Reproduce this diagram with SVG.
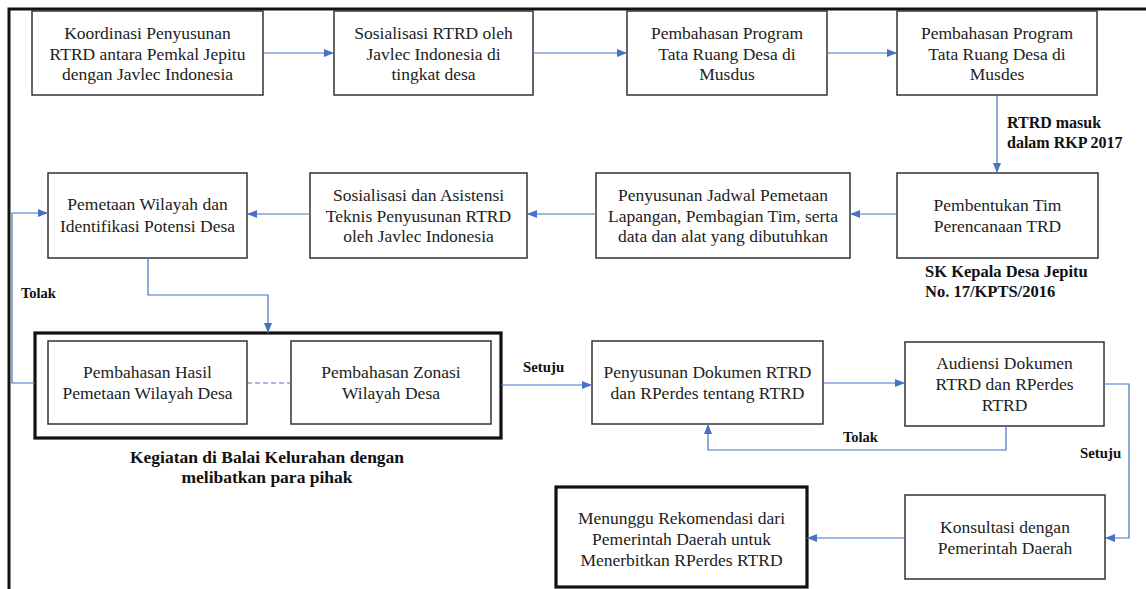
<svg xmlns="http://www.w3.org/2000/svg" width="1146" height="589" viewBox="0 0 1146 589">
<defs>
<style>
.box{fill:#fff;stroke:#333;stroke-width:1.5}
.thick{fill:#fff;stroke:#111;stroke-width:3.2}
text{font-family:'Liberation Serif',Tinos,'Times New Roman','DejaVu Serif',serif}
.t{font-size:17.5px;fill:#222;text-anchor:middle}
.lb{font-weight:bold;fill:#111}
.c{fill:none;stroke:#4472C4;stroke-width:1.2}
.frame{fill:none;stroke:#111;stroke-width:3}
</style>
<marker id="ah" markerUnits="userSpaceOnUse" markerWidth="10" markerHeight="10" viewBox="0 0 10 10" refX="10" refY="5" orient="auto">
<path d="M0,1 L10,5 L0,9 Z" fill="#4472C4"/>
</marker>
</defs>
<rect width="1146" height="589" fill="#fff"/>
<path class="frame" d="M9,589 V9 H1146"/>

<g id="n1"><rect class="box" x="32" y="11" width="231" height="84"/>
<text class="t" x="147.5" y="39">Koordinasi Penyusunan</text><text class="t" x="147.5" y="59.5">RTRD antara Pemkal Jepitu</text><text class="t" x="147.5" y="80">dengan Javlec Indonesia</text></g>
<g id="n2"><rect class="box" x="334" y="11" width="199" height="84"/>
<text class="t" x="433.5" y="39">Sosialisasi RTRD oleh</text><text class="t" x="433.5" y="59.5">Javlec Indonesia di</text><text class="t" x="433.5" y="80">tingkat desa</text></g>
<g id="n3"><rect class="box" x="627" y="11" width="200" height="84"/>
<text class="t" x="727" y="39">Pembahasan Program</text><text class="t" x="727" y="59.5">Tata Ruang Desa di</text><text class="t" x="727" y="80">Musdus</text></g>
<g id="n4"><rect class="box" x="897" y="11" width="200" height="84"/>
<text class="t" x="997" y="39">Pembahasan Program</text><text class="t" x="997" y="59.5">Tata Ruang Desa di</text><text class="t" x="997" y="80">Musdes</text></g>

<g id="n5"><rect class="box" x="897" y="173" width="201" height="85"/>
<text class="t" x="997.5" y="211">Pembentukan Tim</text><text class="t" x="997.5" y="232">Perencanaan TRD</text></g>
<g id="n6"><rect class="box" x="596" y="173" width="254" height="85"/>
<text class="t" x="723" y="201">Penyusunan Jadwal Pemetaan</text><text class="t" x="723" y="221.5">Lapangan, Pembagian Tim, serta</text><text class="t" x="723" y="242">data dan alat yang dibutuhkan</text></g>
<g id="n7"><rect class="box" x="310" y="173" width="217" height="85"/>
<text class="t" x="418.5" y="201">Sosialisasi dan Asistensi</text><text class="t" x="418.5" y="221.5">Teknis Penyusunan RTRD</text><text class="t" x="418.5" y="242">oleh Javlec Indonesia</text></g>
<g id="n8"><rect class="box" x="48" y="173" width="199" height="85"/>
<text class="t" x="147.5" y="210">Pemetaan Wilayah dan</text><text class="t" x="147.5" y="232">Identifikasi Potensi Desa</text></g>

<g id="group"><rect class="thick" x="35" y="333" width="466" height="105"/>
<text class="lb" x="267" y="463" font-size="17.5" text-anchor="middle">Kegiatan di Balai Kelurahan dengan</text>
<text class="lb" x="267" y="483" font-size="17.5" text-anchor="middle">melibatkan para pihak</text></g>
<g id="n9"><rect class="box" x="48" y="341" width="199" height="83"/>
<text class="t" x="147.5" y="378">Pembahasan Hasil</text><text class="t" x="147.5" y="399">Pemetaan Wilayah Desa</text></g>
<g id="n10"><rect class="box" x="291" y="341" width="200" height="83"/>
<text class="t" x="391" y="378">Pembahasan Zonasi</text><text class="t" x="391" y="399">Wilayah Desa</text></g>

<g id="n11"><rect class="box" x="592" y="341" width="231" height="83"/>
<text class="t" x="707.5" y="378">Penyusunan Dokumen RTRD</text><text class="t" x="707.5" y="399">dan RPerdes tentang RTRD</text></g>
<g id="n12"><rect class="box" x="905" y="342" width="199" height="84"/>
<text class="t" x="1004.5" y="369">Audiensi Dokumen</text><text class="t" x="1004.5" y="390">RTRD dan RPerdes</text><text class="t" x="1004.5" y="411">RTRD</text></g>
<g id="n13"><rect class="box" x="905" y="495" width="200" height="84"/>
<text class="t" x="1005" y="533">Konsultasi dengan</text><text class="t" x="1005" y="554">Pemerintah Daerah</text></g>
<g id="n14"><rect class="thick" x="556" y="487" width="251" height="100"/>
<text class="t" x="681.5" y="524">Menunggu Rekomendasi dari</text><text class="t" x="681.5" y="545">Pemerintah Daerah untuk</text><text class="t" x="681.5" y="566">Menerbitkan RPerdes RTRD</text></g>

<g id="connectors">
<path class="c" d="M263,53 H334" marker-end="url(#ah)"/>
<path class="c" d="M533,53 H627" marker-end="url(#ah)"/>
<path class="c" d="M827,53 H897" marker-end="url(#ah)"/>
<path class="c" d="M997,95 V173" marker-end="url(#ah)"/>
<path class="c" d="M897,214 H850" marker-end="url(#ah)"/>
<path class="c" d="M596,214 H527" marker-end="url(#ah)"/>
<path class="c" d="M310,214 H247" marker-end="url(#ah)"/>
<path class="c" d="M148,258 V295 H268 V333" marker-end="url(#ah)"/>
<path class="c" d="M35,383 H12 V213 H48" marker-end="url(#ah)"/>
<path class="c" d="M247,383 H291" stroke-dasharray="5,3"/>
<path class="c" d="M501,385 H592" marker-end="url(#ah)"/>
<path class="c" d="M823,383 H905" marker-end="url(#ah)"/>
<path class="c" d="M1006,426 V450 H708 V424" marker-end="url(#ah)"/>
<path class="c" d="M1104,384 H1129 V538 H1105" marker-end="url(#ah)"/>
<path class="c" d="M905,538 H807" marker-end="url(#ah)"/>
<text class="lb" x="1007" y="128" font-size="16">RTRD masuk</text>
<text class="lb" x="1007" y="148" font-size="16">dalam RKP 2017</text>
<text class="lb" x="925" y="277" font-size="16.5">SK Kepala Desa Jepitu</text>
<text class="lb" x="925" y="297" font-size="16.5">No. 17/KPTS/2016</text>
<text class="lb" x="21" y="298" font-size="14.5">Tolak</text>
<text class="lb" x="523" y="372" font-size="14.8">Setuju</text>
<text class="lb" x="843" y="442" font-size="14.5">Tolak</text>
<text class="lb" x="1080" y="458" font-size="14.8">Setuju</text>
</g>
</svg>
